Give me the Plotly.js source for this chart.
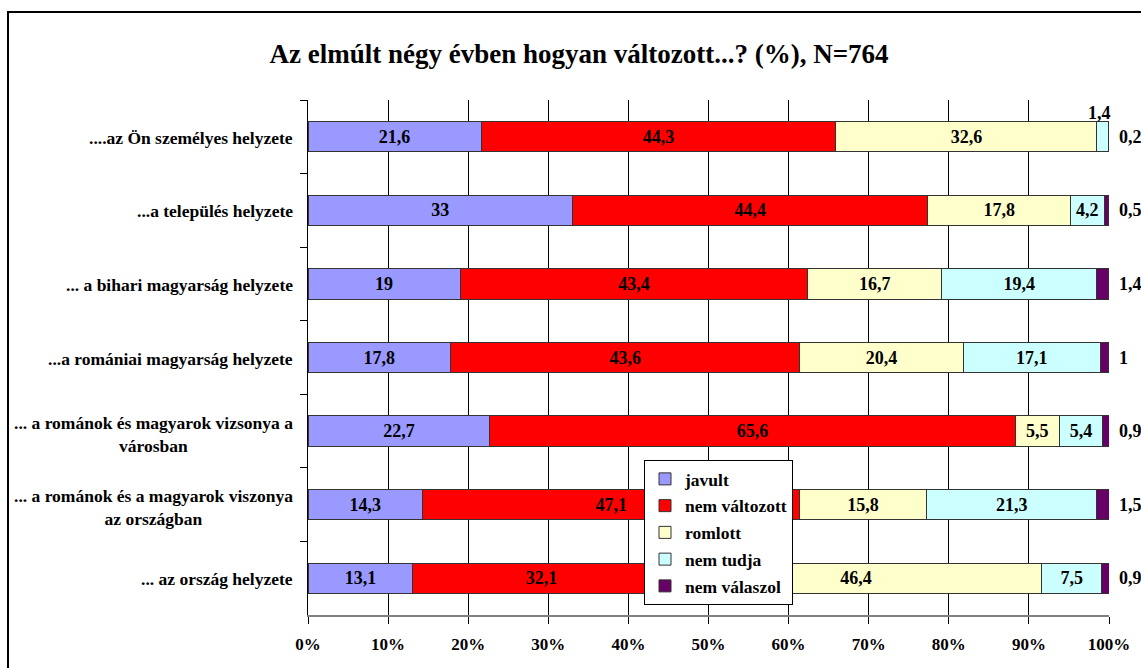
<!DOCTYPE html>
<html>
<head>
<meta charset="utf-8">
<script src="https://cdn.plot.ly/plotly-3.0.1.min.js"></script>
<style>
  html, body { margin: 0; padding: 0; background: #fff; }
  #wrap { position: relative; width: 1141px; height: 668px; overflow: hidden; }
  #chart { width: 1141px; height: 668px; }
  #frame { position: absolute; left: 7px; top: 11px; width: 1200px; height: 700px; border: 2px solid #000; pointer-events: none; }
</style>
</head>
<body>
<div id="wrap"><div id="chart"></div><div id="frame"></div></div>
<script>
const categories = [
  "....az Ön személyes helyzete",
  "...a település helyzete",
  "... a bihari magyarság helyzete",
  "...a romániai magyarság helyzete",
  "... a románok és magyarok vizsonya a<br>városban",
  "... a románok és a magyarok viszonya<br>az országban",
  "... az ország helyzete"
];
const seriesNames = ["javult", "nem változott", "romlott", "nem tudja", "nem válaszol"];
const javult       = [21.6, 33,   19,   17.8, 22.7, 14.3, 13.1];
const nemValtozott = [44.3, 44.4, 43.4, 43.6, 65.6, 47.1, 32.1];
const romlott      = [32.6, 17.8, 16.7, 20.4, 5.5,  15.8, 46.4];
const nemTudja     = [1.4,  4.2,  19.4, 17.1, 5.4,  21.3, 7.5];
const nemValaszol  = [0.2,  0.5,  1.4,  1,    0.9,  1.5,  0.9];
const xTickVals = [0, 10, 20, 30, 40, 50, 60, 70, 80, 90, 100];
const xTickText = ["0%", "10%", "20%", "30%", "40%", "50%", "60%", "70%", "80%", "90%", "100%"];

const colors = ["#9999FF", "#FF0000", "#FFFFCC", "#CCFFFF", "#660066"];
const series = [javult, nemValtozott, romlott, nemTudja, nemValaszol];
const FONT = "Liberation Serif";
const fmt = v => String(v).replace('.', ',');
const boldFont = (size) => ({ family: FONT, size: size, color: '#000', weight: 'bold' });

const traces = series.map((vals, i) => {
  const last = i === series.length - 1;
  const text = vals.map(v => (last || v < 3 ? '' : fmt(v)));
  return {
    type: 'bar',
    orientation: 'h',
    name: '<b>' + seriesNames[i] + '</b>',
    legendgroup: 'g' + i,
    y: categories,
    x: vals,
    marker: { color: colors[i], line: { color: '#333', width: 1 } },
    text: text,
    textposition: 'inside',
    insidetextanchor: 'middle',
    constraintext: 'none',
    cliponaxis: false,
    textfont: boldFont(18),
    hoverinfo: 'x'
  };
});

const annotations = [];
series.forEach((vals, i) => {
  const last = i === series.length - 1;
  vals.forEach((v, k) => {
    if (last) {
      annotations.push({
        x: 1, xref: 'paper', y: categories[k], yref: 'y', xanchor: 'left',
        text: fmt(v), showarrow: false, xshift: 8,
        font: boldFont(18)
      });
    } else if (v < 3) {
      let start = 0;
      for (let j = 0; j < i; j++) start += series[j][k];
      annotations.push({
        x: start + v / 2, y: categories[k], xref: 'x', yref: 'y',
        text: fmt(v), showarrow: false, yshift: 24, xshift: -3,
        font: boldFont(18)
      });
    }
  });
});
categories.forEach(c => {
  const multi = c.indexOf('<br>') >= 0;
  annotations.push({
    x: 0, xref: 'paper', y: c, yref: 'y', xanchor: 'right', xshift: -13,
    yshift: multi ? -3 : -1,
    align: 'center', text: c, showarrow: false,
    font: boldFont(17.5)
  });
});

const layout = {
  width: 1141, height: 668,
  margin: { l: 308, r: 32, t: 100, b: 53 },
  paper_bgcolor: '#fff', plot_bgcolor: '#fff',
  font: boldFont(17),
  barmode: 'stack',
  bargap: 0.59,
  title: {
    text: 'Az elmúlt négy évben hogyan változott...? (%), N=764',
    xref: 'container', x: 579 / 1141, xanchor: 'center',
    yref: 'container', y: 1 - 54 / 668, yanchor: 'middle',
    font: boldFont(27)
  },
  xaxis: {
    range: [0, 100], tickvals: xTickVals, ticktext: xTickText,
    showgrid: true, gridcolor: '#000', gridwidth: 1,
    zeroline: false, showline: true, linecolor: '#808080', linewidth: 2,
    ticks: 'outside', ticklen: 7, tickcolor: '#000',
    ticklabelstandoff: 6,
    tickfont: boldFont(17),
    fixedrange: true
  },
  yaxis: {
    type: 'category', autorange: 'reversed',
    showticklabels: false, showgrid: false, zeroline: false,
    showline: true, linecolor: '#000', linewidth: 1,
    ticks: 'outside', tickson: 'boundaries', ticklen: 7, tickcolor: '#000',
    fixedrange: true
  },
  legend: {
    x: (644 - 308) / 801, y: (615 - 460) / 515, xanchor: 'left', yanchor: 'top',
    bgcolor: '#fff', bordercolor: '#000', borderwidth: 1,
    traceorder: 'grouped', tracegroupgap: 1,
    font: boldFont(17.5),
    itemwidth: 30
  },
  annotations: annotations,
  showlegend: true
};

Plotly.newPlot('chart', traces, layout, { displayModeBar: false, staticPlot: true });
</script>
</body>
</html>
